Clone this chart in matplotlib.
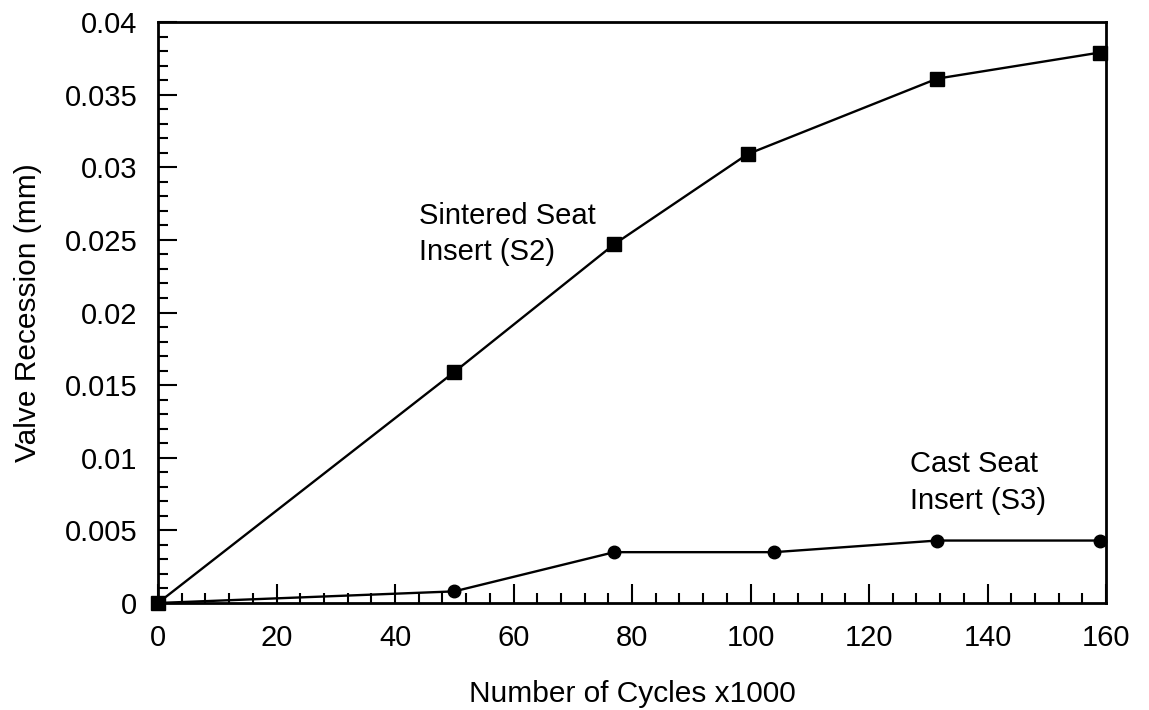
import matplotlib.pyplot as plt
from matplotlib.ticker import MultipleLocator

plt.rcParams['font.family'] = ['Liberation Sans', 'DejaVu Sans']

# sintered seat insert (S2)
s2_cycles = [0, 50, 77, 99.5, 131.5, 159]
s2_recession = [0.0, 0.0159, 0.0247, 0.0309, 0.0361, 0.0379]

# cast seat insert (S3)
s3_cycles = [0, 50, 77, 104, 131.5, 159]
s3_recession = [0.0, 0.0008, 0.0035, 0.0035, 0.0043, 0.0043]

y_ticks = [0, 0.005, 0.01, 0.015, 0.02, 0.025, 0.03, 0.035, 0.04]
y_tick_labels = ['0', '0.005', '0.01', '0.015', '0.02', '0.025', '0.03', '0.035', '0.04']

fig = plt.figure(figsize=(11.49, 7.10), dpi=100)
ax = fig.add_axes([158 / 1149, 1 - 603 / 710, (1106 - 158) / 1149, (603 - 22) / 710])

ax.plot(s3_cycles, s3_recession, color='black', lw=1.7, marker='o', ms=9, clip_on=False, zorder=3)
ax.plot(s2_cycles, s2_recession, color='black', lw=1.7, marker='s', ms=10.5, clip_on=False, zorder=4)

# curve labels
ax.text(44, 0.0276, 'Sintered Seat\nInsert (S2)', fontsize=21, ha='left', va='top', linespacing=1.37)
ax.text(127, 0.0105, 'Cast Seat\nInsert (S3)', fontsize=21, ha='left', va='top', linespacing=1.37)

ax.set_xlim(0, 160)
ax.set_ylim(0, 0.04)
ax.xaxis.set_major_locator(MultipleLocator(20))
ax.xaxis.set_minor_locator(MultipleLocator(4))
ax.set_yticks(y_ticks)
ax.set_yticklabels(y_tick_labels)
ax.yaxis.set_minor_locator(MultipleLocator(0.001))

ax.tick_params(which='major', direction='in', length=14, width=1.5, labelsize=21)
ax.tick_params(axis='x', which='major', pad=15)
ax.tick_params(axis='y', which='major', pad=15)
ax.tick_params(which='minor', direction='in', length=7, width=1.5)
for sp in ax.spines.values():
    sp.set_linewidth(2)

ax.set_xlabel('Number of Cycles x1000', fontsize=21.5, labelpad=20)
ax.set_ylabel('Valve Recession (mm)', fontsize=21.5, labelpad=16)

fig.savefig('out.png', dpi=100)
